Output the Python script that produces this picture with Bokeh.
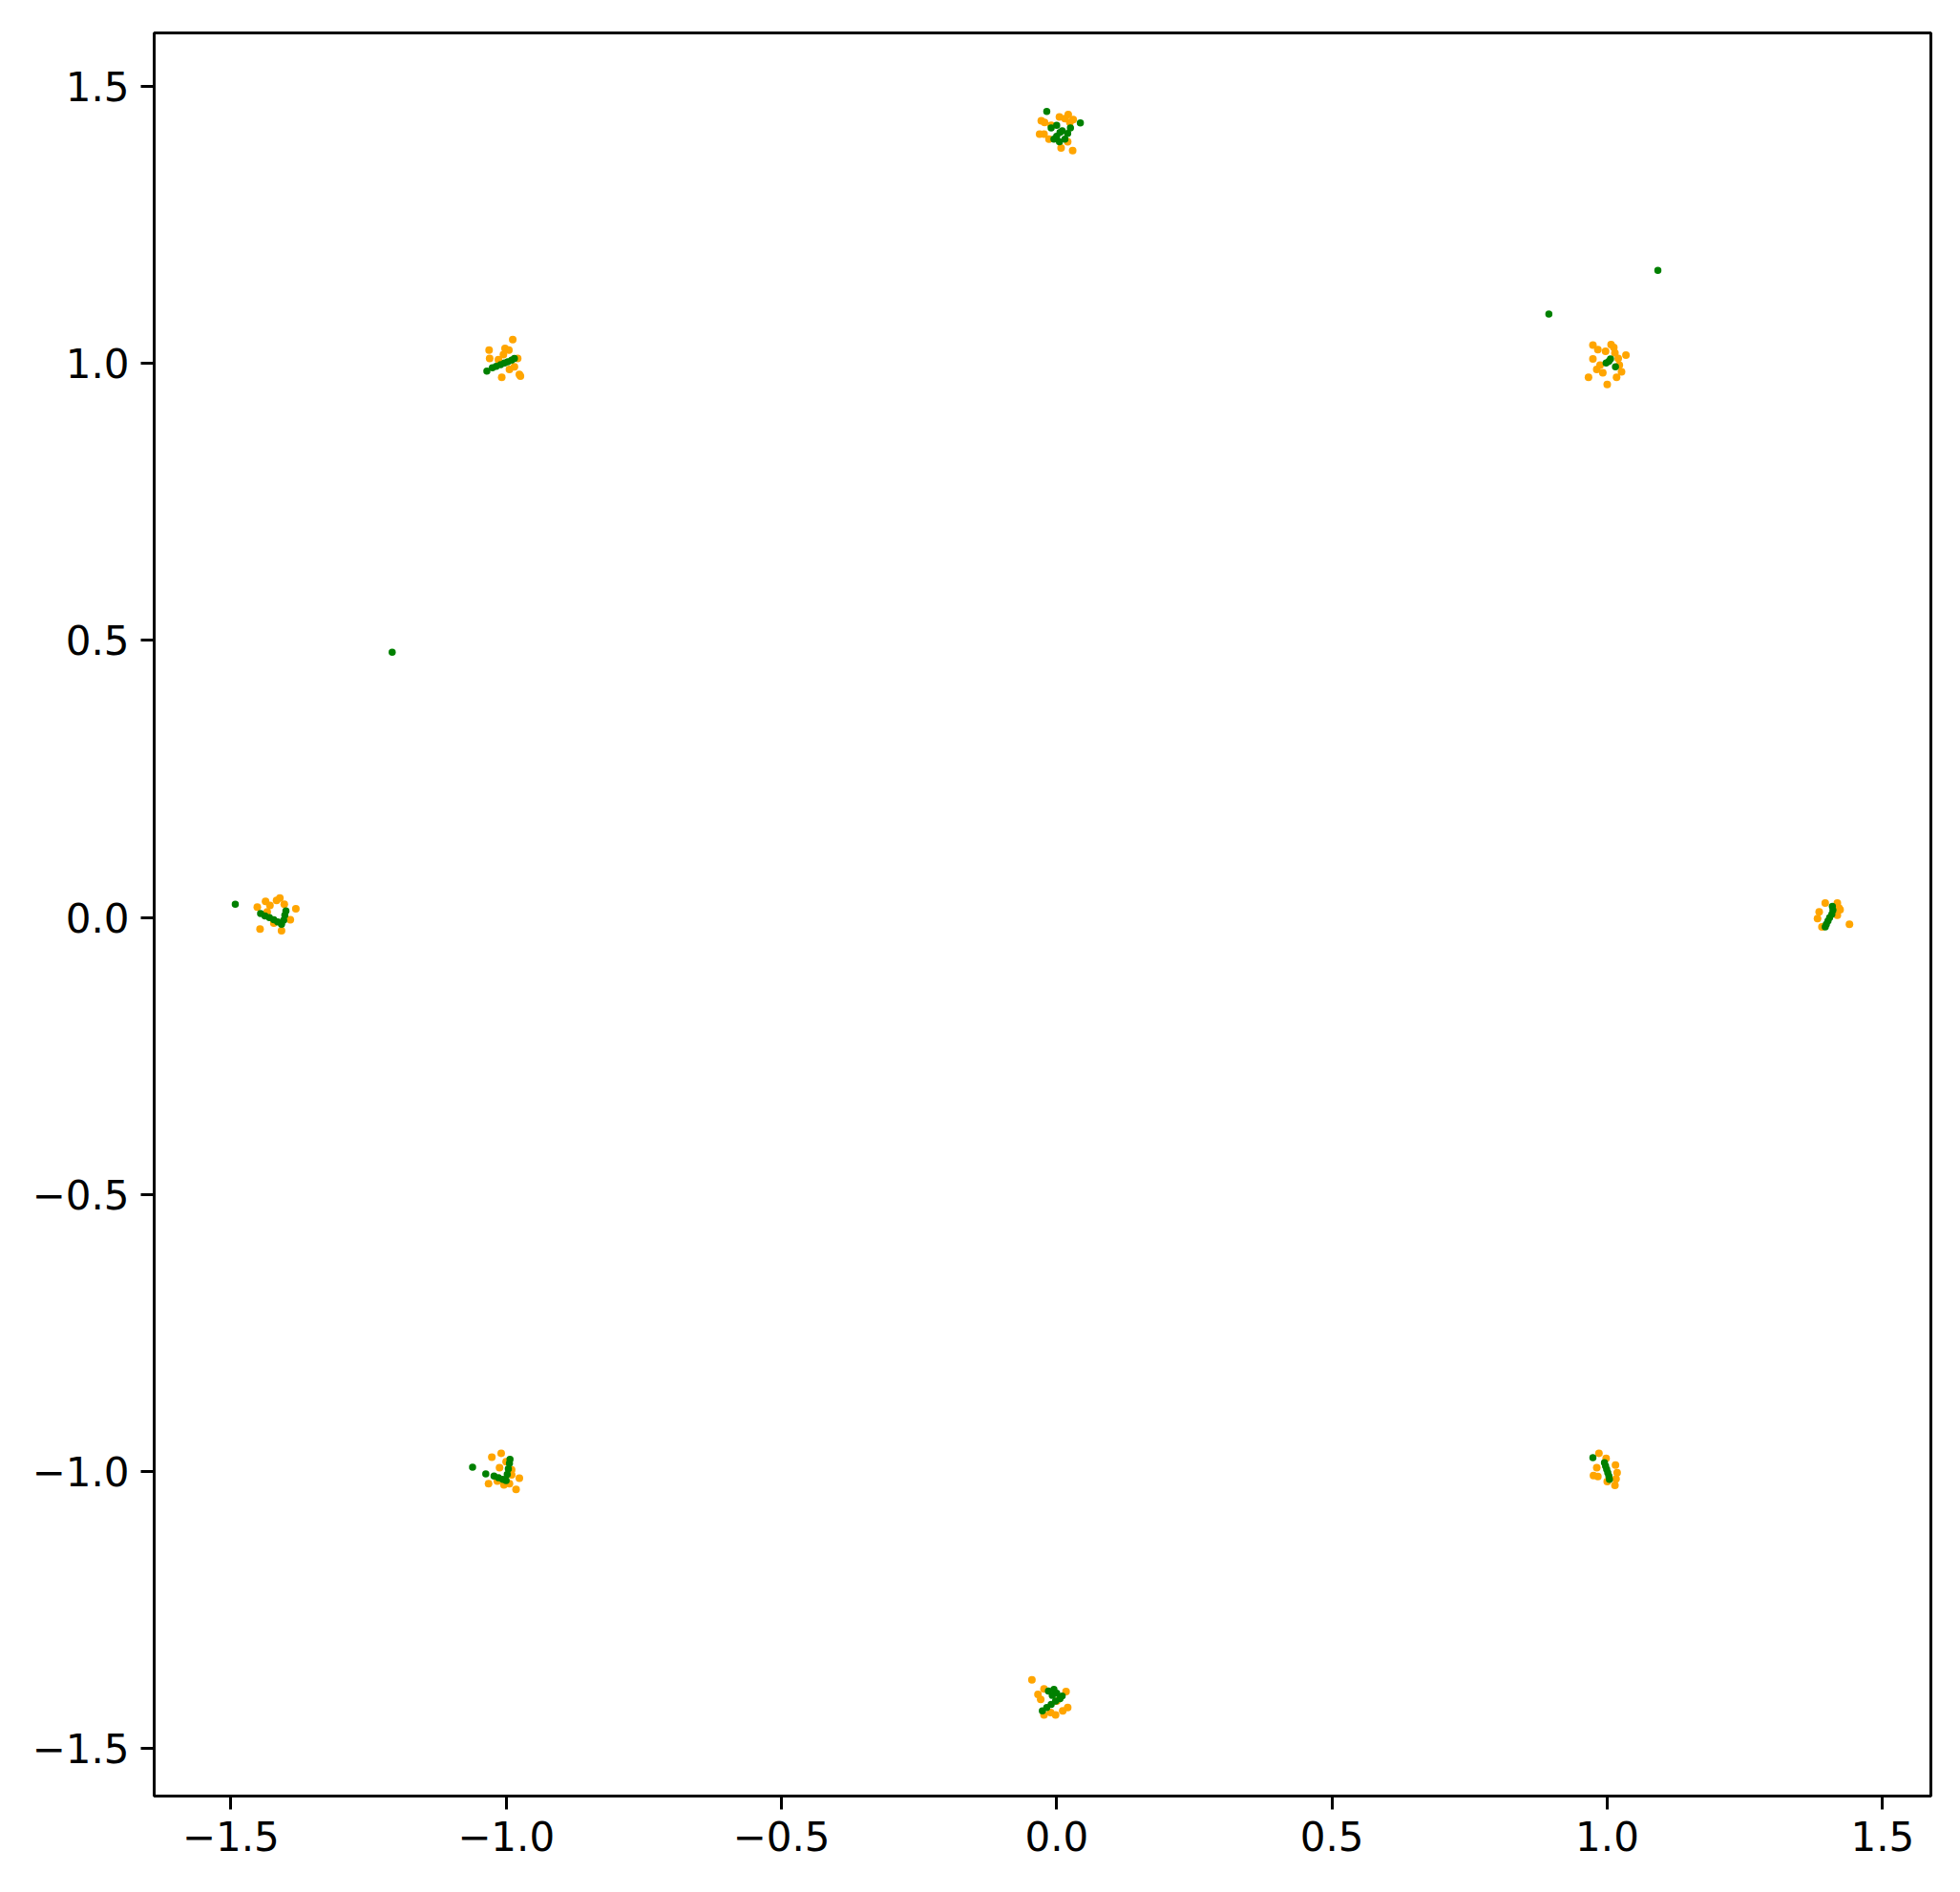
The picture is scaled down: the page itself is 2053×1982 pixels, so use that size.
from bokeh.plotting import figure
from bokeh.models import FixedTicker, CustomJSTickFormatter, Range1d
from bokeh.embed import file_html
from bokeh.resources import INLINE

# Orange series (noisy received symbols)
orange_x = [
    -0.028, -0.022, 0.021, 0.015, -0.031, 0.008, 0.029, -0.023, 0.024, -0.014, 0.030, 0.005, -0.010, 0.020,
    -0.988, -1.031, -1.002, -0.995, -0.979, -1.014, -1.030, -0.976, -0.974, -1.008, -0.994, -0.985, -1.005,
    0.974, 1.007, 1.012, 0.983, 0.997, 1.014, 1.034, 0.974, 1.020, 0.981, 0.992, 1.026, 0.966, 1.017, 1.000, 0.987, 1.022,
    -1.437, -1.411, -1.417, -1.452, -1.429, -1.403, -1.382, -1.392, -1.447, -1.408, -1.422, -1.434,
    1.396, 1.418, 1.385, 1.423, 1.382, 1.418, 1.440, 1.390, 1.421,
    -1.026, -1.009, -1.012, -1.000, -0.990, -0.976, -1.032, -1.016, -1.004, -0.982, -0.994, -0.990,
    0.985, 0.981, 0.975, 1.015, 1.018, 1.016, 1.014, 0.983, 1.000, 0.998,
    -0.045, -0.034, -0.023, 0.017, -0.029, 0.000, 0.020, 0.011, -0.023, -0.002, -0.011,
]
orange_y = [
    1.438, 1.435, 1.449, 1.442, 1.414, 1.389, 1.384, 1.414, 1.435, 1.405, 1.440, 1.445, 1.430, 1.400,
    1.043, 1.024, 1.027, 1.024, 1.009, 1.007, 1.009, 0.980, 0.977, 0.975, 0.989, 0.994, 1.016,
    1.033, 1.034, 1.029, 1.025, 1.022, 1.019, 1.015, 1.008, 1.009, 0.989, 0.983, 0.985, 0.975, 0.975, 0.962, 0.997, 0.997,
    0.029, 0.035, 0.031, 0.019, 0.022, 0.024, 0.016, -0.004, -0.021, -0.024, -0.010, 0.010,
    0.026, 0.026, 0.010, 0.014, -0.002, 0.004, -0.012, -0.017, 0.017,
    -0.974, -0.967, -0.993, -0.982, -0.997, -1.012, -1.022, -1.017, -1.024, -1.032, -1.022, -1.006,
    -0.967, -0.993, -1.007, -0.988, -1.002, -1.013, -1.025, -1.009, -1.018, -0.976,
    -1.376, -1.402, -1.392, -1.397, -1.411, -1.414, -1.426, -1.432, -1.439, -1.439, -1.435,
]

# Green series (equalised symbols)
green_x = [
    -0.018, 0.043, -0.010, 0.000, 0.010, 0.020, 0.015, 0.000, -0.005, 0.025, 0.005, 0.006,
    -1.035, -1.025, -1.018, -1.010, -1.003, -0.997, -0.990, -0.985,
    1.003, 1.015, 0.998, 1.006,
    1.092, 0.894, -1.207,
    -1.492, -1.446, -1.438, -1.430, -1.422, -1.415, -1.408, -1.404, -1.402, -1.400,
    1.409, 1.410, 1.408, 1.404, 1.401, 1.398, 1.396,
    -1.061, -1.037, -1.022, -1.014, -1.006, -1.000, -0.998, -0.996, -0.994, -0.993,
    0.974, 0.995, 0.997, 0.999, 1.001, 1.003, 1.004,
    -0.026, -0.018, -0.010, -0.002, 0.006, 0.010, -0.015, -0.005, 0.000, -0.008,
]
green_y = [
    1.455, 1.434, 1.425, 1.430, 1.420, 1.415, 1.405, 1.410, 1.405, 1.425, 1.400, 1.417,
    0.986, 0.992, 0.995, 0.998, 1.001, 1.003, 1.006, 1.009,
    1.004, 0.994, 1.001, 1.008,
    1.168, 1.089, 0.479,
    0.024, 0.007, 0.003, 0.000, -0.004, -0.008, -0.012, -0.005, 0.004, 0.012,
    0.020, 0.013, 0.006, 0.000, -0.006, -0.012, -0.017,
    -0.992, -1.004, -1.008, -1.011, -1.014, -1.016, -1.005, -0.995, -0.985, -0.978,
    -0.975, -0.984, -0.990, -0.996, -1.002, -1.008, -1.014,
    -1.432, -1.426, -1.420, -1.414, -1.410, -1.405, -1.396, -1.393, -1.400, -1.404,
]

tick_values = [-1.5, -1.0, -0.5, 0.0, 0.5, 1.0, 1.5]

p = figure(
    frame_width=1861, frame_height=1847,
    min_border_left=161, min_border_top=34, min_border_right=16, min_border_bottom=85,
    x_range=Range1d(-1.6393, 1.5879), y_range=Range1d(-1.5856, 1.5965),
    output_backend="svg", toolbar_location=None,
)
p.background_fill_color = "white"
p.border_fill_color = "white"
p.outline_line_color = "black"
p.outline_line_width = 3
p.grid.visible = False

fmt = CustomJSTickFormatter(code="return tick.toFixed(1).replace('-', '\u2212');")
for ax in (p.xaxis[0], p.yaxis[0]):
    ax.ticker = FixedTicker(ticks=tick_values)
    ax.formatter = fmt
    ax.axis_line_color = None
    ax.major_tick_in = 0
    ax.major_tick_out = 14
    ax.major_tick_line_width = 3
    ax.major_tick_line_color = "black"
    ax.minor_tick_line_color = None
    ax.major_label_text_font = "DejaVu Sans"
    ax.major_label_text_font_size = "42px"
    ax.major_label_text_color = "black"
    ax.major_label_standoff = 12

p.scatter(orange_x, orange_y, size=8, color="orange", line_color=None)
p.scatter(green_x, green_y, size=7.5, color="green", line_color=None)

open("out.html", "w").write(file_html(p, INLINE))
